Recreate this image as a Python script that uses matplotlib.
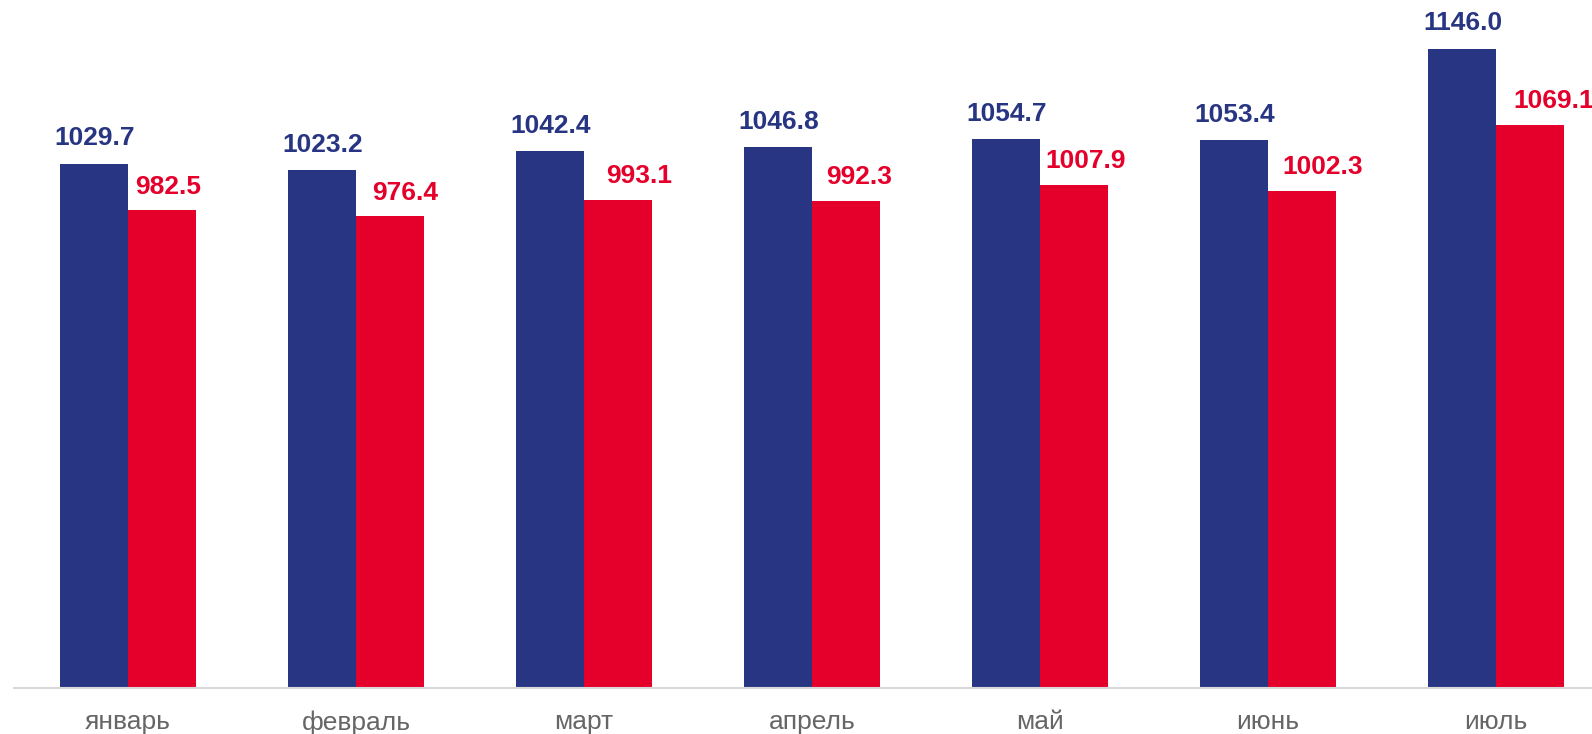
import matplotlib
matplotlib.use("Agg")
import matplotlib.pyplot as plt
import numpy as np

months = ["январь", "февраль", "март", "апрель", "май", "июнь", "июль"]
series_blue = [1029.7, 1023.2, 1042.4, 1046.8, 1054.7, 1053.4, 1146.0]
series_red = [982.5, 976.4, 993.1, 992.3, 1007.9, 1002.3, 1069.1]

# horizontal nudges (points) of the red value labels, as placed in the original
red_label_dx = [4, 11, 15, 9, 8, 15, 17]

BLUE = "#283583"
RED = "#e4002b"

plt.rcParams['font.family'] = ['Liberation Sans', 'DejaVu Sans']

W, H = 1592, 734
fig = plt.figure(figsize=(W / 100, H / 100), dpi=100)
spacing = 228.0
left_px = 14
ax_w_px = spacing * len(months)
base_px = 688
ax = fig.add_axes([left_px / W, (H - base_px) / H, ax_w_px / W, base_px / H])

x = np.arange(len(months))
bw = 0.3
ax.bar(x - bw / 2, np.array(series_blue) - 500, bw, bottom=500, color=BLUE, linewidth=0)
ax.bar(x + bw / 2, np.array(series_red) - 500, bw, bottom=500, color=RED, linewidth=0)

ax.set_xlim(-0.5, len(months) - 0.5)
ax.set_ylim(500, 1195)

for i in range(len(months)):
    ax.annotate(f"{series_blue[i]:.1f}", (x[i] - bw / 2, series_blue[i]), xytext=(0.5, 9.5),
                textcoords="offset points", ha="center", va="bottom",
                fontsize=19, fontweight="bold", color=BLUE)
    ax.annotate(f"{series_red[i]:.1f}", (x[i] + bw / 2, series_red[i]), xytext=(red_label_dx[i], 8.5),
                textcoords="offset points", ha="center", va="bottom",
                fontsize=19, fontweight="bold", color=RED)

for s in ["top", "right", "left"]:
    ax.spines[s].set_visible(False)
ax.spines["bottom"].set_color("#d9d9d9")
ax.spines["bottom"].set_linewidth(1.5)
ax.set_yticks([])
ax.set_xticks(x)
ax.set_xticklabels(months, fontsize=19, color="#666666")
ax.tick_params(axis="x", length=0, pad=16)

fig.savefig("out.png", dpi=100)
